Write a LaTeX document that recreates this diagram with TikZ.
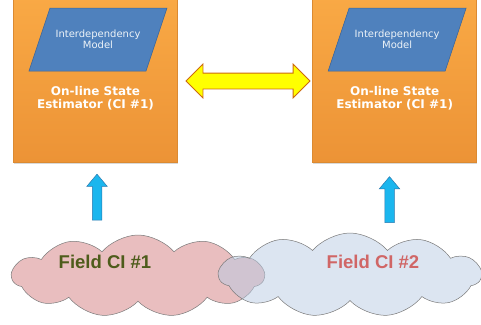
\documentclass[tikz,border=0pt]{standalone}
\usepackage{fontspec}
\setmainfont{DejaVu Sans}
\newfontfamily\fieldfont{Liberation Sans}
\usetikzlibrary{arrows.meta,positioning,shapes.arrows,shapes.symbols,shadows}

\definecolor{esttop}{HTML}{F9A945}
\definecolor{estbot}{HTML}{EC9336}
\definecolor{estedge}{HTML}{DB8A32}
\definecolor{modelfill}{HTML}{4F81BD}
\definecolor{modeledge}{HTML}{3A659A}
\definecolor{linkfill}{HTML}{FFFF00}
\definecolor{linkedge}{HTML}{CC6A10}
\definecolor{upfill}{HTML}{1BB6EE}
\definecolor{upedge}{HTML}{2B79AE}
\definecolor{pinkcloud}{HTML}{E9BEBF}
\definecolor{bluecloud}{HTML}{B9CBE3}
\definecolor{cloudedge}{HTML}{7A7A7A}
\definecolor{onetext}{HTML}{4E5C1B}
\definecolor{twotext}{HTML}{D06666}

\begin{document}
\begin{tikzpicture}[x=1pt, y=-1pt]

	\tikzstyle{estimator}=[draw=estedge, line width=0.4pt, top color=esttop,
	bottom color=estbot, minimum width=164pt, minimum height=165pt,
	drop shadow={shadow xshift=0.6pt, shadow yshift=-1.6pt, opacity=0.3}]
	\tikzstyle{modelbox}=[draw=modeledge, fill=modelfill, line width=0.5pt]
	\tikzstyle{model}=[inner sep=0pt, align=center, text=white!90!modelfill,
	font=\fontsize{10}{11.5}\selectfont]
	\tikzstyle{esttext}=[align=center, text=white, inner sep=0pt,
	font=\fontsize{12}{13.5}\selectfont\bfseries]
	\tikzstyle{twoway}=[double arrow, draw=linkedge, fill=linkfill, line width=0.8pt,
	inner xsep=0pt, inner ysep=7.5pt, double arrow head extend=9pt, minimum height=124pt]
	\tikzstyle{uparrow}=[single arrow, rotate=90, draw=upedge, fill=upfill, line width=0.5pt,
	inner xsep=0pt, inner ysep=4.5pt, single arrow head extend=5.5pt,
	single arrow tip angle=80, minimum height=46pt]
	\tikzstyle{field}=[cloud, cloud puffs=11, cloud puff arc=100, draw=cloudedge,
	line width=0.5pt]
	\tikzstyle{fieldtext}=[inner sep=0pt, font=\fontsize{18.5}{20}\fieldfont\bfseries]

	\useasboundingbox (0,0) rectangle (481,324);

	% State estimators
	\node[estimator] (est1) at (95.25,79.5) {};
	\node[estimator, right=135pt of est1] (est2) {};

	% Interdependency models (parallelograms)
	\coordinate (m1) at (98,39.5);
	\coordinate (m2) at ([xshift=2.5pt]est2.center |- m1);
	\foreach \m in {m1,m2}
		\draw[modelbox] ([shift={(-69,31.5)}]\m) -- ++(117,0) -- ++(21,-63) -- ++(-117,0) -- cycle;
	\node[model] (mod1) at (m1) {Interdependency\\Model};
	\node[model] (mod2) at (m2) {Interdependency\\Model};

	\node[esttext] (lab1) at (95.5,98) {On-line State\\Estimator (CI \#1)};
	\node[esttext] (lab2) at (est2.center |- lab1) {On-line State\\Estimator (CI \#1)};

	% Exchange between the estimators
	\node[twoway] (link) at (248,81) {};

	% Field networks
	\node[field, fill=pinkcloud, minimum width=252pt, minimum height=82pt] (field1) at (138,276) {};
	\node[field, fill=bluecloud, fill opacity=0.5, minimum width=262pt, minimum height=84pt] (field2) at (350,275) {};
	\node[fieldtext, text=onetext] (name1) at (105,262) {Field CI \#1};
	\node[fieldtext, text=twotext] (name2) at (373,262) {Field CI \#2};

	% Measurements going up
	\node[uparrow] (up1) at (97,200) {};
	\node[uparrow] (up2) at (389.5,202.5) {};

\end{tikzpicture}
\end{document}
